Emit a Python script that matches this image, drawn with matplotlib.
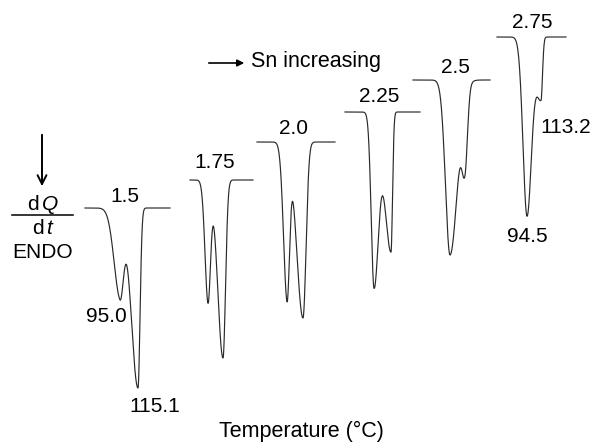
"""DSC traces for increasing Sn content (endotherms pointing down)."""

import matplotlib.pyplot as plt
import numpy as np

plt.rcParams["font.family"] = ["Liberation Sans", "DejaVu Sans"]
plt.rcParams["mathtext.fontset"] = "custom"
plt.rcParams["mathtext.rm"] = "Liberation Sans"
plt.rcParams["mathtext.it"] = "Liberation Sans:italic"

# Sn content of each trace
sn_labels = ["1.5", "1.75", "2.0", "2.25", "2.5", "2.75"]

# baseline level and horizontal extent of each trace (picture units)
baselines = [208, 180, 142, 112, 80, 37]
x_start = [85, 190, 257, 345, 413, 497]
x_end = [170, 253, 335, 420, 490, 566]

# endothermic peaks of each trace: centre, depth, left width, right width
peaks = [
    [(120, 87, 6.0, 3.5), (138, 180, 6.7, 2.0)],
    [(208, 120, 3.0, 2.5), (223, 178, 5.3, 2.5)],
    [(287, 152, 3.5, 2.5), (303, 176, 6.4, 3.0)],
    [(374, 173, 2.8, 4.5), (391, 140, 6.2, 1.5)],
    [(450, 175, 4.5, 7.4), (465, 73, 3.0, 2.5)],
    [(527, 178, 4.0, 4.5), (541, 62, 5.0, 1.5)],
]

# label positions: Sn labels, then peak temperatures
label_xy = [(125, 196), (215, 163), (293, 128), (379, 96), (455, 67), (532, 22)]
peak_temps = ["95.0", "115.1", "113.2", "94.5"]
peak_xy = [(106, 317), (155, 407), (566, 127), (527, 236)]


def trace(x, base, pks):
    y = np.full_like(x, float(base))
    for c, d, wl, wr in pks:
        w = np.where(x < c, wl, wr)
        y += d * np.exp(-0.5 * ((x - c) / w) ** 2)
    return y


fig = plt.figure(figsize=(5.92, 4.43), dpi=100)
ax = fig.add_axes([0, 0, 1, 1])
ax.set_xlim(0, 592)
ax.set_ylim(443, 0)
ax.axis("off")

fs = 15
for i in range(len(sn_labels)):
    x = np.linspace(x_start[i], x_end[i], 800)
    ax.plot(x, trace(x, baselines[i], peaks[i]), color="#2a2a2a", lw=0.85)
    ax.text(*label_xy[i], sn_labels[i], fontsize=fs, ha="center", va="center")

for t, (px, py) in zip(peak_temps, peak_xy):
    ax.text(px, py, t, fontsize=fs, ha="center", va="center")

# "Sn increasing" arrow
ax.annotate("", xy=(247, 63), xytext=(206, 63),
            arrowprops=dict(arrowstyle="-|>", lw=1.2, color="black",
                            mutation_scale=10))
ax.text(251, 61, "Sn increasing", fontsize=15.5, ha="left", va="center")

# dQ/dt ENDO label
ax.annotate("", xy=(42, 189), xytext=(42, 132),
            arrowprops=dict(arrowstyle="->", lw=1.4, color="black",
                            mutation_scale=16))
ax.text(43, 204, r"$\mathrm{d}\,Q$", fontsize=fs, ha="center", va="center")
ax.plot([12, 73], [215, 215], color="black", lw=1.1)
ax.text(44, 228, r"$\mathrm{d}\,t$", fontsize=fs, ha="center", va="center")
ax.text(43, 252, "ENDO", fontsize=fs, ha="center", va="center")

ax.text(301, 431, "Temperature (\u00b0C)", fontsize=15.5, ha="center", va="center")

fig.savefig("out.png", dpi=100)
